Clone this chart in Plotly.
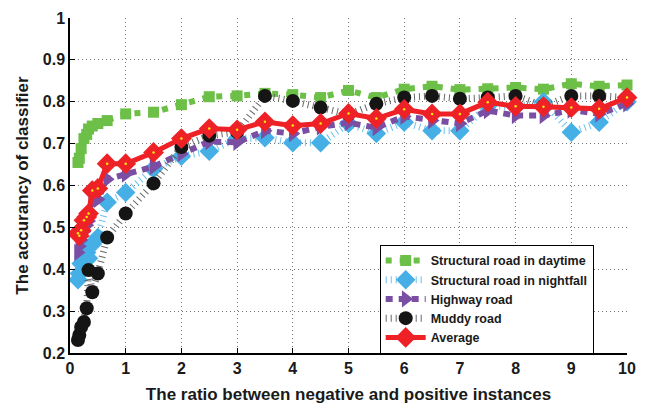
import plotly.graph_objects as go

# Ratio between negative and positive instances (shared x positions)
ratio = [0.143, 0.167, 0.2, 0.25, 0.3, 0.333, 0.4, 0.5, 0.667,
         1, 1.5, 2, 2.5, 3, 3.5, 4, 4.5, 5, 5.5, 6, 6.5, 7, 7.5, 8, 8.5, 9, 9.5, 10]

daytime = [0.655, 0.665, 0.688, 0.712, 0.722, 0.735, 0.742, 0.748, 0.755,
           0.771, 0.775, 0.793, 0.812, 0.814, 0.820, 0.817, 0.810, 0.827, 0.810,
           0.830, 0.837, 0.829, 0.831, 0.834, 0.830, 0.843, 0.837, 0.840]
nightfall = [0.375, 0.390, 0.414, 0.430, 0.440, 0.426, 0.460, 0.476, 0.560,
             0.583, 0.640, 0.670, 0.682, 0.712, 0.714, 0.702, 0.702, 0.748, 0.724,
             0.751, 0.731, 0.731, 0.790, 0.788, 0.800, 0.727, 0.751, 0.800]
highway = [0.440, 0.455, 0.470, 0.490, 0.505, 0.515, 0.560, 0.567, 0.615,
           0.627, 0.645, 0.676, 0.705, 0.703, 0.731, 0.724, 0.740, 0.750, 0.738,
           0.765, 0.755, 0.748, 0.779, 0.767, 0.767, 0.780, 0.771, 0.795]
muddy = [0.231, 0.243, 0.262, 0.274, 0.307, 0.398, 0.345, 0.390, 0.476,
         0.533, 0.605, 0.692, 0.719, 0.728, 0.814, 0.802, 0.786, 0.770, 0.795,
         0.810, 0.814, 0.807, 0.810, 0.814, 0.790, 0.814, 0.814, 0.810]
average = [0.486, 0.480, 0.493, 0.517, 0.525, 0.533, 0.588, 0.593, 0.652,
           0.652, 0.679, 0.712, 0.736, 0.733, 0.752, 0.743, 0.748, 0.772, 0.760,
           0.782, 0.771, 0.771, 0.799, 0.789, 0.788, 0.786, 0.783, 0.810]

names = ["Structural road in daytime", "Structural road in nightfall",
         "Highway road", "Muddy road", "Average"]

x_ticks = [0, 1, 2, 3, 4, 5, 6, 7, 8, 9, 10]
y_ticks = [0.2, 0.3, 0.4, 0.5, 0.6, 0.7, 0.8, 0.9, 1]
y_tick_text = ["0.2", "0.3", "0.4", "0.5", "0.6", "0.7", "0.8", "0.9", "1"]

FONT = "Liberation Sans, Arial, sans-serif"

fig = go.Figure()

fig.add_trace(go.Scatter(
    x=ratio, y=daytime, name=names[0], mode="lines+markers", cliponaxis=False,
    line=dict(color="#6cbf47", width=6, dash="6px,8px"),
    marker=dict(symbol="square", size=11, color="#6cbf47")))

fig.add_trace(go.Scatter(
    x=ratio, y=nightfall, name=names[1], mode="lines+markers", cliponaxis=False,
    line=dict(color="#6cc0ee", width=7, dash="1px,4px"),
    marker=dict(symbol="diamond", size=15, color="#45afe6")))

fig.add_trace(go.Scatter(
    x=ratio, y=highway, name=names[2], mode="lines+markers", cliponaxis=False,
    line=dict(color="#7a4ea2", width=6, dash="7px,6px"),
    marker=dict(symbol="triangle-right", size=15, color="#7a4ea2")))

fig.add_trace(go.Scatter(
    x=ratio, y=muddy, name=names[3], mode="lines+markers", cliponaxis=False,
    line=dict(color="#666666", width=7, dash="1px,4px"),
    marker=dict(symbol="circle", size=14, color="#151515")))

fig.add_trace(go.Scatter(
    x=ratio, y=average, name=names[4], mode="lines+markers", cliponaxis=False,
    line=dict(color="#ee2226", width=5),
    marker=dict(symbol="diamond", size=16, color="#ee2226")))

# small yellow centre dots of the average markers
fig.add_trace(go.Scatter(
    x=ratio, y=average, mode="markers", showlegend=False, cliponaxis=False,
    hoverinfo="skip", marker=dict(symbol="circle", size=2.5, color="#f5e90a")))

axis_common = dict(
    showline=True, linecolor="black", linewidth=1.5, mirror=False,
    ticks="inside", ticklen=5, tickcolor="black", tickwidth=1.2,
    showgrid=True, gridcolor="#777777", gridwidth=1, griddash="1px,3px",
    zeroline=False,
    tickfont=dict(family=FONT, size=16, color="#1a1a1a", weight="bold"),
)

fig.update_xaxes(
    range=[0, 10], tickvals=x_ticks,
    ticktext=["<b>%s</b>" % t for t in x_ticks],
    title=dict(text="The ratio between negative and positive instances",
               font=dict(family=FONT, size=17, color="#1a1a1a", weight="bold"),
               standoff=12),
    **axis_common)
fig.update_yaxes(
    range=[0.2, 1], tickvals=y_ticks,
    ticktext=["<b>%s</b>" % t for t in y_tick_text],
    title=dict(text="The accurancy of classifier",
               font=dict(family=FONT, size=17, color="#1a1a1a", weight="bold"),
               standoff=10),
    **axis_common)

fig.update_layout(
    width=646, height=416,
    margin=dict(l=70, r=10, t=16, b=63),
    paper_bgcolor="white", plot_bgcolor="white",
    legend=dict(x=0.556, y=0.323, xanchor="left", yanchor="top",
                bgcolor="white", bordercolor="black", borderwidth=1,
                font=dict(family=FONT, size=12.5, color="#1a1a1a", weight="bold"),
                tracegroupgap=0, itemwidth=40),
    showlegend=True,
)

fig.write_html("out.html")
